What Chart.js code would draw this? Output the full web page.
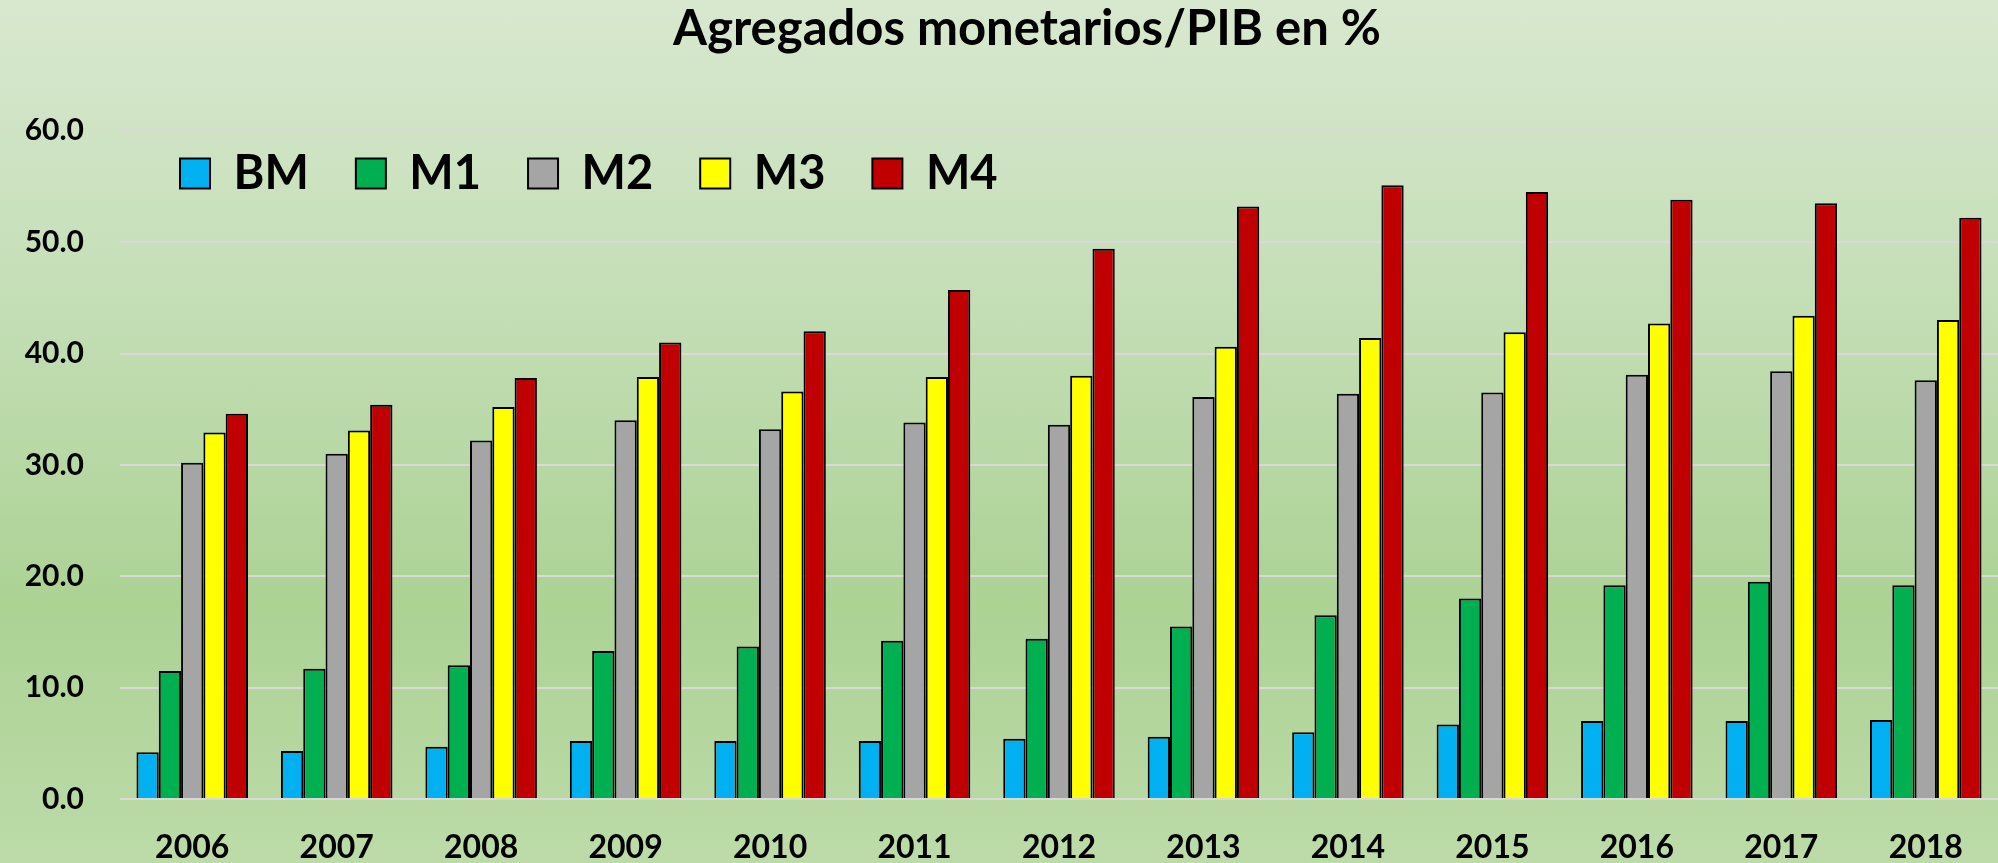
<!DOCTYPE html>
<html>
<head>
<meta charset="utf-8">
<script src="https://cdn.jsdelivr.net/npm/chart.js@4"></script>
<style>
  body { margin: 0; }
  #wrap {
    width: 1998px; height: 863px;
    background: linear-gradient(to bottom, #d8e8cf 0%, #c4deb6 35%, #acd294 70%, #bcdba8 100%);
  }
</style>
</head>
<body>
<div id="wrap"><canvas id="moneyChart"></canvas></div>
<script>
const years = ['2006', '2007', '2008', '2009', '2010', '2011', '2012', '2013', '2014', '2015', '2016', '2017', '2018'];
const bm = [4.2, 4.3, 4.7, 5.2, 5.2, 5.2, 5.4, 5.6, 6.0, 6.7, 7.0, 7.0, 7.1];
const m1 = [11.5, 11.7, 12.0, 13.3, 13.7, 14.2, 14.4, 15.5, 16.5, 18.0, 19.2, 19.5, 19.2];
const m2 = [30.2, 31.0, 32.2, 34.0, 33.2, 33.8, 33.6, 36.1, 36.4, 36.5, 38.1, 38.4, 37.6];
const m3 = [32.9, 33.1, 35.2, 37.9, 36.6, 37.9, 38.0, 40.6, 41.4, 41.9, 42.7, 43.4, 43.0];
const m4 = [34.6, 35.4, 37.8, 41.0, 42.0, 45.7, 49.4, 53.2, 55.1, 54.5, 53.8, 53.5, 52.2];

const FONT = 'Lato';

function series(label, data, color) {
  return {
    label: label,
    data: data,
    backgroundColor: color,
    borderColor: '#000000',
    borderWidth: 2,
    categoryPercentage: 0.772,
    barPercentage: 1.0
  };
}

// move legend down into the plot area and nudge title like the original
const placeBlocks = {
  id: 'placeBlocks',
  afterLayout(chart) {
    const lg = chart.legend;
    lg.left = 133;
    lg.right = 1998;
    lg.top = 103;
    lg.bottom = 209;
    lg.width = lg.right - lg.left;
    lg.height = lg.bottom - lg.top;
    const t = chart.titleBlock;
    t.left = 56;
    t.width = t.right - t.left;
  }
};

const ctx = document.getElementById('moneyChart').getContext('2d');

new Chart(ctx, {
  type: 'bar',
  data: {
    labels: years,
    datasets: [
      series('BM', bm, '#00b0f0'),
      series('M1', m1, '#00b050'),
      series('M2', m2, '#a5a5a5'),
      series('M3', m3, '#ffff00'),
      series('M4', m4, '#c00000')
    ]
  },
  plugins: [placeBlocks],
  options: {
    responsive: true,
    maintainAspectRatio: false,
    animation: false,
    layout: { padding: 0 },
    plugins: {
      title: {
        display: true,
        text: 'Agregados monetarios/PIB en %',
        color: '#000',
        font: { family: FONT, size: 49, weight: 'bold', lineHeight: 1.2 },
        padding: { top: 0, bottom: 2 }
      },
      legend: {
        position: 'top',
        align: 'start',
        maxHeight: 70,
        labels: {
          color: '#000',
          font: { family: FONT, size: 47, weight: 'bold' },
          boxWidth: 30,
          boxHeight: 30,
          padding: 47
        }
      },
      tooltip: { enabled: false }
    },
    scales: {
      x: {
        grid: { display: false },
        border: { display: false },
        ticks: {
          color: '#000',
          font: { family: FONT, size: 32, weight: 'bold' },
          padding: 21,
          maxRotation: 0
        },
        afterFit(scale) { scale.height = 64; }
      },
      y: {
        min: 0,
        max: 60,
        grid: { color: '#d9d9d9', lineWidth: 2, drawTicks: false },
        border: { display: false },
        ticks: {
          stepSize: 10,
          color: '#000',
          font: { family: FONT, size: 30, weight: 'bold' },
          padding: 36,
          callback: (v) => v.toFixed(1)
        },
        afterFit(scale) { scale.width = 120; }
      }
    }
  }
});
</script>
</body>
</html>
